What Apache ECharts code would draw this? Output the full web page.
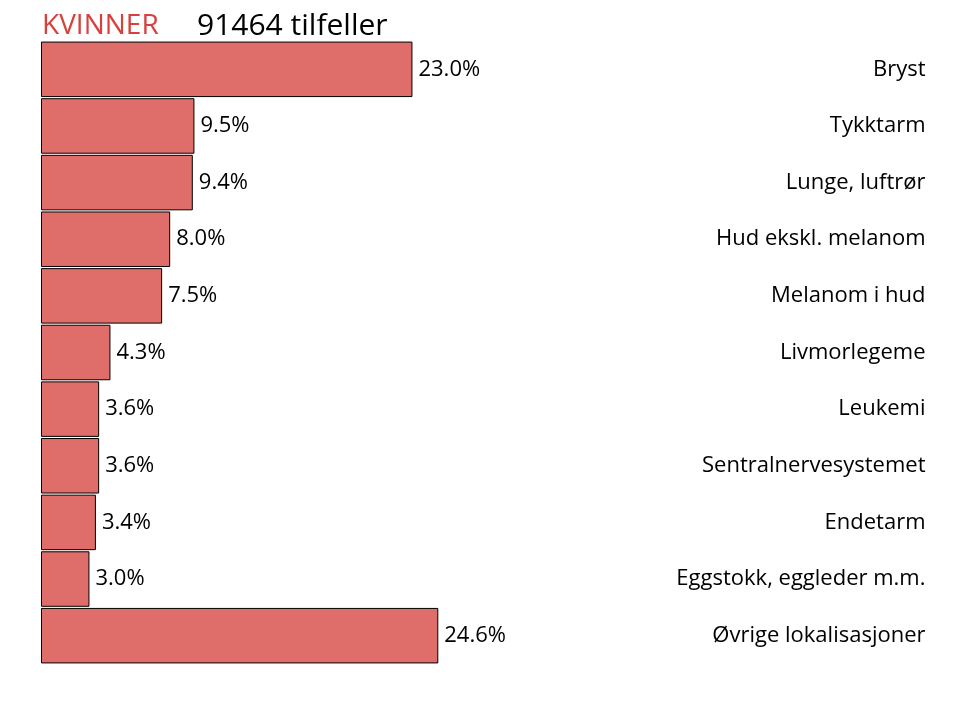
<!DOCTYPE html>
<html><head><meta charset="utf-8">
<script src="https://cdn.jsdelivr.net/npm/echarts@6/dist/echarts.min.js"></script>
<style>html,body{margin:0;padding:0;background:#fff}#c{width:970px;height:706px}</style>
</head><body><div id="c"></div>
<script>
const categories = ["Bryst","Tykktarm","Lunge, luftrør","Hud ekskl. melanom","Melanom i hud","Livmorlegeme","Leukemi","Sentralnervesystemet","Endetarm","Eggstokk, eggleder m.m.","Øvrige lokalisasjoner"];
const values = [23.0,9.5,9.4,8.0,7.5,4.3,3.6,3.6,3.4,3.0,24.6];
const titleLeft = "KVINNER";
const titleRight = "91464 tilfeller";

const chart = echarts.init(document.getElementById('c'), null, {renderer:'canvas'});
const FONT = "'Open Sans', sans-serif";
chart.setOption({
  animation:false,
  backgroundColor:'#fff',
  title:[
    {text:titleLeft, left:37, top:7, textStyle:{color:'#d9403c', fontSize:28, fontWeight:'normal', fontFamily:FONT}},
    {text:titleRight, left:192, top:6, textStyle:{color:'#000', fontSize:30, fontWeight:'normal', fontFamily:FONT}}
  ],
  grid:{left:41, top:41, width:484.5, height:623},
  xAxis:{type:'value', min:0, max:30, show:false},
  yAxis:{type:'category', data:categories, inverse:true, position:'right',
    axisLine:{show:false}, axisTick:{show:false}, splitLine:{show:false},
    axisLabel:{align:'right', margin:400, fontSize:22, color:'#000', fontFamily:FONT}},
  series:[{type:'bar', data:values, barCategoryGap:'2%',
    itemStyle:{color:'#df6e6a', borderColor:'#000', borderWidth:1},
    label:{show:true, position:'right', distance:6, fontSize:22, color:'#000', fontFamily:FONT,
      formatter:p=>p.value.toFixed(1)+'%'}}]
});
</script></body></html>
